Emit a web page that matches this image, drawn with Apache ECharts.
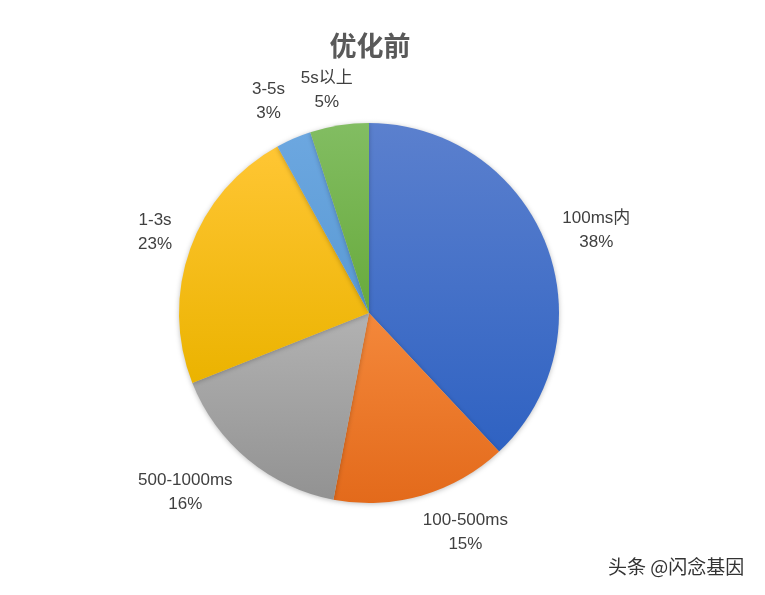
<!DOCTYPE html>
<html>
<head>
<meta charset="utf-8">
<script src="https://cdn.jsdelivr.net/npm/echarts@6/dist/echarts.min.js"></script>
<style>
html,body{margin:0;padding:0;background:#fff;}
#chart{width:765px;height:595px;}
</style>
</head>
<body>
<div id="chart"></div>
<script>
const categories = ['100ms内', '100-500ms', '500-1000ms', '1-3s', '3-5s', '5s以上'];
const values = [38, 15, 16, 23, 3, 5];
const colorsTop = ['#5b80ce', '#f4883b', '#b2b2b2', '#ffc634', '#6ca7e0', '#82bd62'];
const colorsBottom = ['#2f62c2', '#e36a1b', '#929292', '#ebb300', '#5a9ad4', '#68aa3c'];
// small label nudges (px) to mimic the original label placement
const labelNudge = [[6, 5], [30, -9], [-32, -4], [10, 0], [-6, 7], [-5, 12]];

const data = categories.map((name, i) => ({
  name: name,
  value: values[i],
  itemStyle: {
    color: {
      type: 'linear', x: 0, y: 0, x2: 0, y2: 1,
      colorStops: [
        { offset: 0, color: colorsTop[i] },
        { offset: 1, color: colorsBottom[i] }
      ]
    }
  }
}));

const chart = echarts.init(document.getElementById('chart'), null, { renderer: 'canvas' });
chart.setOption({
  animation: false,
  backgroundColor: '#ffffff',
  title: {
    text: '优化前',
    left: 365,
    textAlign: 'center',
    top: 27,
    textStyle: {
      fontFamily: 'Noto Sans CJK SC',
      fontSize: 27,
      fontWeight: 'bold',
      color: '#595959'
    }
  },
  graphic: [{
    type: 'text',
    left: 608,
    top: 557,
    style: {
      text: '头条 @闪念基因',
      fontFamily: 'Noto Sans CJK SC',
      fontSize: 19,
      fill: '#333333'
    }
  }],
  series: [{
    type: 'pie',
    center: [369, 313],
    radius: 190,
    startAngle: 90,
    clockwise: true,
    avoidLabelOverlap: false,
    data: data,
    itemStyle: {
      shadowBlur: 5,
      shadowColor: 'rgba(0,0,0,0.25)',
      shadowOffsetY: 1
    },
    label: {
      show: true,
      position: 'outside',
      distanceToLabelLine: 0,
      align: 'center',
      formatter: '{b}\n{d}%',
      fontFamily: 'Liberation Sans, Noto Sans CJK SC',
      fontSize: 17,
      lineHeight: 24,
      color: '#404040'
    },
    labelLine: { show: false, length: 48, length2: 0 },
    labelLayout: function (params) {
      const n = labelNudge[params.dataIndex] || [0, 0];
      return { align: 'center', verticalAlign: 'middle', dx: n[0], dy: n[1] };
    },
    emphasis: { disabled: true }
  }]
});
</script>
</body>
</html>
